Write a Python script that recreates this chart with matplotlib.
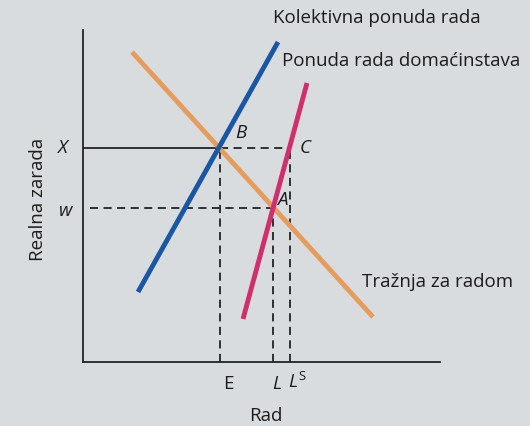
import matplotlib.pyplot as plt

# line end points (x, y) in chart units, origin at the axes corner
demand_x, demand_y = [49, 290], [310, 45]        # Traznja za radom
collective_x, collective_y = [55, 195], [70, 320]  # Kolektivna ponuda rada
household_x, household_y = [160, 224], [43, 279]   # Ponuda rada domacinstava

# wage levels and labour quantities
wage_X = 214
wage_w = 154
E = 137
L = 190
LS = 207

plt.rcParams["font.family"] = ["Open Sans", "DejaVu Sans"]
plt.rcParams["mathtext.fontset"] = "custom"
plt.rcParams["mathtext.it"] = "Open Sans:italic"
plt.rcParams["mathtext.rm"] = "Open Sans"

bg = "#d9dcdf"
fig = plt.figure(figsize=(5.30, 4.26), dpi=100, facecolor=bg)
ax = fig.add_axes([83 / 530, (426 - 362) / 426, 357 / 530, 332 / 426])
ax.set_facecolor(bg)
ax.set_xlim(0, 357)
ax.set_ylim(0, 332)
for s in ["top", "right"]:
    ax.spines[s].set_visible(False)
for s in ["left", "bottom"]:
    ax.spines[s].set_color("#222222")
    ax.spines[s].set_linewidth(1.3)
ax.set_xticks([])
ax.set_yticks([])

txt = "#1c1c1c"
fs = 13.5
dash = (0, (4.5, 3))

# guide lines
ax.plot([0, E], [wage_X, wage_X], color="#222222", lw=1.3)
ax.plot([E, LS], [wage_X, wage_X], color="#222222", lw=1.3, ls=dash)
ax.plot([7, L], [wage_w, wage_w], color="#222222", lw=1.3, ls=dash)
ax.plot([E, E], [0, wage_X], color="#222222", lw=1.3, ls=dash)
ax.plot([L, L], [0, wage_w], color="#222222", lw=1.3, ls=dash)
ax.plot([LS, LS], [0, wage_X], color="#222222", lw=1.3, ls=dash)

# curves
ax.plot(demand_x, demand_y, color="#e49d5e", lw=3.5, solid_capstyle="butt")
ax.plot(collective_x, collective_y, color="#1b56a3", lw=3.5, solid_capstyle="butt")
ax.plot(household_x, household_y, color="#d02f6e", lw=3.5, solid_capstyle="butt")

# point labels
ax.text(E + 21, wage_X + 15, "B", fontsize=fs, style="italic", color=txt, ha="center", va="center")
ax.text(LS + 15, wage_X, "C", fontsize=fs, style="italic", color=txt, ha="center", va="center")
ax.text(L + 9, wage_w + 8, "A", fontsize=fs, style="italic", color=txt, ha="center", va="center")
ax.text(-20, wage_X, "X", fontsize=fs, style="italic", color=txt, ha="center", va="center", clip_on=False)
ax.text(-17, wage_w - 3, "w", fontsize=fs, style="italic", color=txt, ha="center", va="center", clip_on=False)

# quantity labels
ax.text(E + 8, -22, "E", fontsize=fs, color=txt, ha="center", va="center", clip_on=False)
ax.text(L + 4, -22, "$L$", fontsize=fs, color=txt, ha="center", va="center", clip_on=False)
ax.text(LS + 7, -20, "$L^{\\mathrm{S}}$", fontsize=fs, color=txt, ha="center", va="center", clip_on=False)

# curve labels
ax.text(190, 344, "Kolektivna ponuda rada", fontsize=fs, color=txt, ha="left", va="center", clip_on=False)
ax.text(199, 301, "Ponuda rada domaćinstava", fontsize=fs, color=txt, ha="left", va="center", clip_on=False)
ax.text(279, 80, "Tražnja za radom", fontsize=fs, color=txt, ha="left", va="center", clip_on=False)

# axis titles
ax.text(183, -54, "Rad", fontsize=fs, color=txt, ha="center", va="center", clip_on=False)
ax.text(-45, 163, "Realna zarada", fontsize=fs, color=txt, rotation=90, ha="center", va="center", clip_on=False)

fig.savefig("out.png", dpi=100, facecolor=bg)
